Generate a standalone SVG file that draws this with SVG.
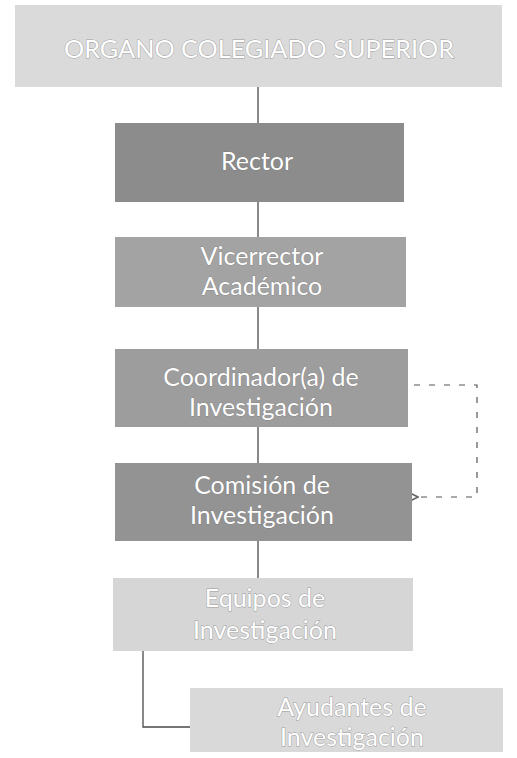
<svg xmlns="http://www.w3.org/2000/svg" width="517" height="758" viewBox="0 0 517 758">
<style>
.lbl{font-family:Lato,"Open Sans","Liberation Sans",sans-serif;font-size:25px;text-anchor:middle;fill:#ffffff}
.lt{stroke:#9a9a9a;stroke-width:0.9px;paint-order:stroke}
.dk{stroke:#6a6a6a;stroke-width:0.5px;paint-order:stroke}
.conn{stroke:#4a4a4a;stroke-width:1.3;fill:none}
.dash{stroke:#555;stroke-width:1.2;fill:none;stroke-dasharray:6 9}
</style>
<defs>
<marker id="arr" viewBox="0 0 10 10" refX="1" refY="5" markerWidth="9" markerHeight="9" orient="auto">
<path d="M9,1 L1,5 L9,9" fill="none" stroke="#666" stroke-width="1.5"/>
</marker>
</defs>
<rect width="517" height="758" fill="#ffffff"/>
<g id="connectors">
<line class="conn" x1="258" y1="87" x2="258" y2="123"/>
<line class="conn" x1="258" y1="202" x2="258" y2="237"/>
<line class="conn" x1="258" y1="307" x2="258" y2="349"/>
<line class="conn" x1="258" y1="427" x2="258" y2="463"/>
<line class="conn" x1="258" y1="541" x2="258" y2="578"/>
<path class="conn" d="M143,651 V727 H190"/>
<path class="dash" d="M414,385 H477 V497 H418" marker-end="url(#arr)"/>
</g>
<g id="organo">
<rect x="15" y="5" width="487" height="82" fill="#dadada"/>
<text class="lbl lt" x="259" y="58" font-size="27" textLength="390" lengthAdjust="spacingAndGlyphs">ORGANO COLEGIADO SUPERIOR</text>
</g>
<g id="rector">
<rect x="115" y="123" width="289" height="79" fill="#8c8c8c"/>
<text class="lbl dk" x="257" y="170">Rector</text>
</g>
<g id="vicerrector">
<rect x="115" y="237" width="291" height="70" fill="#a3a3a3"/>
<text class="lbl dk" x="262" y="265">Vicerrector</text>
<text class="lbl dk" x="262" y="295">Académico</text>
</g>
<g id="coordinador">
<rect x="115" y="349" width="293" height="78" fill="#9d9d9d"/>
<text class="lbl dk" x="261" y="386">Coordinador(a) de</text>
<text class="lbl dk" x="261" y="416">Investigación</text>
</g>
<g id="comision">
<rect x="115" y="463" width="297" height="78" fill="#939393"/>
<text class="lbl dk" x="262" y="494">Comisión de</text>
<text class="lbl dk" x="262" y="524">Investigación</text>
</g>
<g id="equipos">
<rect x="113" y="578" width="300" height="73" fill="#d6d6d6"/>
<text class="lbl lt" x="265" y="607">Equipos de</text>
<text class="lbl lt" x="265" y="639">Investigación</text>
</g>
<g id="ayudantes">
<rect x="190" y="688" width="313" height="64" fill="#d9d9d9"/>
<text class="lbl lt" x="352" y="716">Ayudantes de</text>
<text class="lbl lt" x="352" y="746">Investigación</text>
</g>
</svg>
